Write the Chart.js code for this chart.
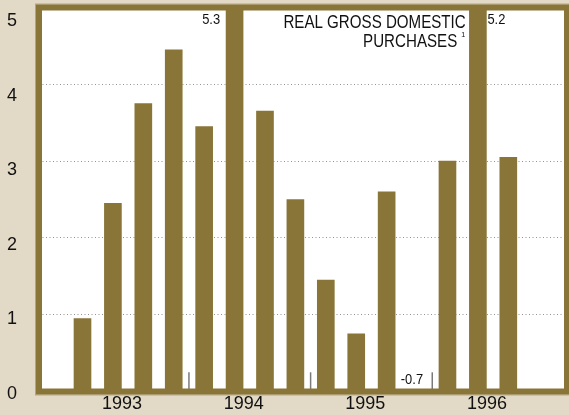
<!DOCTYPE html>
<html>
<head>
<meta charset="utf-8">
<script src="https://cdn.jsdelivr.net/npm/chart.js@4"></script>
<style>
  html, body { margin: 0; padding: 0; background: #e2dac7; }
  #wrap { width: 569px; height: 415px; position: relative; }
</style>
</head>
<body>
<div id="wrap"><canvas id="purchasesChart"></canvas></div>
<script>
// real gross domestic purchases, percent change by quarter
const quarters = ["1993 Q1", "1993 Q2", "1993 Q3", "1993 Q4",
                  "1994 Q1", "1994 Q2", "1994 Q3", "1994 Q4",
                  "1995 Q1", "1995 Q2", "1995 Q3", "1995 Q4",
                  "1996 Q1", "1996 Q2", "1996 Q3"];
const purchases = [0.95, 2.45, 3.75, 4.45, 3.45, 5.3, 3.65, 2.5,
                   1.45, 0.75, 2.6, -0.7, 3.0, 5.2, 3.05];
const years = ["1993", "1994", "1995", "1996"];
const yTicks = [0, 1, 2, 3, 4, 5];
const titleLines = ["REAL GROSS DOMESTIC", "PURCHASES"];
const footnote = "1";

const OLIVE = "#8a7538";
const FONT = '"Liberation Sans", Arial, sans-serif';

// condensed text, the original uses a narrow face
function drawNarrow(ctx, text, x, y, align, size, sx) {
  ctx.save();
  ctx.font = size + "px " + FONT;
  ctx.fillStyle = "#111";
  ctx.textAlign = align;
  ctx.textBaseline = "alphabetic";
  ctx.translate(x, y);
  ctx.scale(sx || 0.86, 1);
  ctx.fillText(text, 0, 0);
  ctx.restore();
}

// axes keep their size, no extra room for tick labels
function noPadding(s) {
  s.paddingTop = 0;
  s.paddingBottom = 0;
  s.paddingLeft = 0;
  s.paddingRight = 0;
}

const framePlugin = {
  id: "frame",
  beforeDraw(chart) {
    const { ctx, chartArea: a } = chart;
    ctx.save();
    ctx.fillStyle = "#fff";
    ctx.fillRect(a.left, a.top, a.width, a.height);
    ctx.restore();
  },
  afterDraw(chart) {
    const { ctx, chartArea: a, scales } = chart;
    const x = scales.x, y = scales.y;
    ctx.save();

    // little marks between the years
    ctx.strokeStyle = "#7a7a7a";
    ctx.lineWidth = 1.5;
    for (let k = 1; k < years.length; k++) {
      const px = x.getPixelForValue(4 * k - 0.5);
      ctx.beginPath();
      ctx.moveTo(px, y.getPixelForValue(0.25));
      ctx.lineTo(px, a.bottom);
      ctx.stroke();
    }

    // thick frame
    ctx.strokeStyle = "#b4a67c";
    ctx.lineWidth = 1;
    ctx.strokeRect(a.left - 3.5, a.top - 3.5, a.width + 7, a.height + 7);
    ctx.strokeStyle = OLIVE;
    ctx.lineWidth = 6;
    ctx.strokeRect(a.left, a.top, a.width, a.height);
    ctx.restore();

    // values that run off the scale
    const bars = chart.getDatasetMeta(0).data;
    purchases.forEach((v, i) => {
      if (v >= y.min && v <= y.max) return;
      const bar = bars[i];
      const half = bar.width / 2;
      const txt = v.toFixed(1);
      if (v > y.max) {
        if (i < purchases.length / 2) {
          drawNarrow(ctx, txt, bar.x - half - 6, a.top + 16, "right", 15);
        } else {
          drawNarrow(ctx, txt, bar.x + half + 1, a.top + 16, "left", 15);
        }
      } else {
        drawNarrow(ctx, txt, bar.x + half - 2.5, a.bottom - 7.5, "right", 15);
      }
    });

    // series title
    const r = x.getPixelForValue(12.6);
    drawNarrow(ctx, titleLines[0], r, a.top + 20.5, "right", 18, 0.84);
    drawNarrow(ctx, titleLines[1], r - 8.5, a.top + 39.5, "right", 18, 0.84);
    drawNarrow(ctx, footnote, r - 4.5, a.top + 29, "left", 8, 0.9);
  }
};

new Chart(document.getElementById("purchasesChart"), {
  type: "bar",
  data: {
    labels: quarters,
    datasets: [
      {
        label: "Real gross domestic purchases",
        data: purchases.map((v, i) => ({ x: i, y: v })),
        backgroundColor: OLIVE,
        borderWidth: 0,
        barThickness: 17,
        xAxisID: "x",
        yAxisID: "y",
      },
    ],
  },
  options: {
    responsive: true,
    maintainAspectRatio: false,
    animation: false,
    devicePixelRatio: 1,
    layout: { padding: { top: 7.5, right: 2, bottom: 0, left: 0 } },
    plugins: {
      legend: { display: false },
      tooltip: { enabled: false },
    },
    scales: {
      x: {
        type: "linear",
        offset: false,
        min: -1.43,
        max: 15.93,
        grid: { display: false, drawTicks: false, offset: false },
        border: { display: false },
        afterBuildTicks: (s) => {
          s.ticks = years.map((_, k) => ({ value: 4 * k + 1.3 }));
        },
        afterFit: (s) => { s.height = 23.5; noPadding(s); },
        ticks: {
          callback: (v, i) => years[i],
          font: { family: FONT, size: 18 },
          color: "#111",
          padding: 2,
          autoSkip: false,
          maxRotation: 0,
        },
      },
      y: {
        min: 0,
        max: 5,
        z: 1,
        ticks: { display: false, stepSize: 1 },
        grid: {
          color: "rgba(40,40,40,0.5)",
          drawTicks: false,
          borderDash: [1, 2.5],
        },
        border: { display: false, dash: [1, 2.5] },
        afterFit: (s) => { s.width = 0; noPadding(s); },
      },
      yl: {
        position: "left",
        min: 0.0336,
        max: 5.188,
        grid: { display: false, drawTicks: false },
        border: { display: false },
        afterBuildTicks: (s) => {
          s.ticks = yTicks.map((v) => ({ value: v }));
        },
        afterFit: (s) => { s.width = 39; noPadding(s); },
        ticks: {
          font: { family: FONT, size: 18 },
          color: "#111",
          padding: 22,
          autoSkip: false,
        },
      },
    },
  },
  plugins: [framePlugin],
});
</script>
</body>
</html>
